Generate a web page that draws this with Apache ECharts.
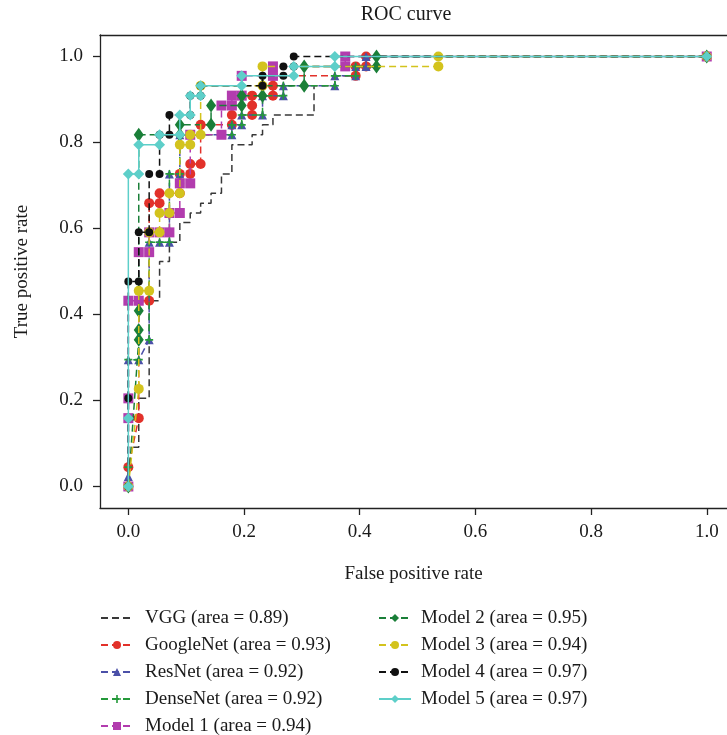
<!DOCTYPE html>
<html><head><meta charset="utf-8">
<script src="https://cdn.jsdelivr.net/npm/echarts@6/dist/echarts.min.js"></script>
<style>html,body{margin:0;padding:0;background:#fff}#c{width:727px;height:735px}</style>
</head><body><div id="c"></div>
<script>
// ROC points [false positive rate, true positive rate]
const vgg = [[0,0],[0,0.091],[0.018,0.091],[0.018,0.205],[0.036,0.205],[0.036,0.432],[0.054,0.432],[0.054,0.523],[0.071,0.523],[0.071,0.568],[0.089,0.568],[0.089,0.614],[0.107,0.614],[0.107,0.636],[0.125,0.636],[0.125,0.659],[0.143,0.659],[0.143,0.682],[0.161,0.682],[0.161,0.727],[0.179,0.727],[0.179,0.795],[0.214,0.795],[0.214,0.818],[0.232,0.818],[0.232,0.841],[0.25,0.841],[0.25,0.864],[0.321,0.864],[0.321,0.932],[0.357,0.932],[0.357,0.955],[0.393,0.955],[0.393,0.977],[0.429,0.977],[0.429,1],[1,1]];
const googleNet = [[0,0],[0,0.045],[0.018,0.159],[0.018,0.432],[0.036,0.432],[0.036,0.659],[0.054,0.659],[0.054,0.682],[0.089,0.682],[0.089,0.727],[0.107,0.727],[0.107,0.75],[0.125,0.75],[0.125,0.841],[0.179,0.841],[0.179,0.864],[0.214,0.864],[0.214,0.886],[0.214,0.909],[0.25,0.909],[0.25,0.932],[0.25,0.955],[0.393,0.955],[0.393,0.977],[0.411,0.977],[0.411,1],[1,1]];
const resNet = [[0,0],[0,0.023],[0,0.295],[0.018,0.295],[0.036,0.341],[0.036,0.568],[0.054,0.568],[0.071,0.568],[0.071,0.727],[0.089,0.727],[0.089,0.818],[0.179,0.818],[0.179,0.841],[0.196,0.841],[0.196,0.864],[0.232,0.864],[0.232,0.909],[0.268,0.909],[0.268,0.932],[0.357,0.932],[0.357,0.955],[0.393,0.955],[0.393,0.977],[0.411,0.977],[0.411,1],[1,1]];
const denseNet = [[0,0],[0,0.045],[0,0.295],[0.018,0.295],[0.018,0.341],[0.036,0.341],[0.036,0.568],[0.054,0.568],[0.071,0.568],[0.071,0.727],[0.089,0.727],[0.089,0.818],[0.179,0.818],[0.179,0.841],[0.196,0.841],[0.196,0.864],[0.232,0.864],[0.232,0.909],[0.268,0.909],[0.268,0.932],[0.357,0.932],[0.357,0.955],[0.393,0.955],[0.393,0.977],[0.429,0.977],[0.429,1],[1,1]];
const model1 = [[0,0],[0,0.159],[0,0.205],[0,0.432],[0.018,0.432],[0.018,0.545],[0.036,0.545],[0.036,0.591],[0.054,0.591],[0.071,0.591],[0.071,0.636],[0.089,0.636],[0.089,0.705],[0.107,0.705],[0.107,0.818],[0.161,0.818],[0.161,0.886],[0.179,0.886],[0.179,0.909],[0.196,0.909],[0.196,0.955],[0.25,0.955],[0.25,0.977],[0.375,0.977],[0.375,1],[1,1]];
const model2 = [[0,0],[0.018,0.341],[0.018,0.364],[0.018,0.409],[0.018,0.818],[0.089,0.818],[0.089,0.841],[0.143,0.841],[0.143,0.886],[0.196,0.886],[0.196,0.909],[0.232,0.909],[0.232,0.932],[0.304,0.932],[0.304,0.977],[0.429,0.977],[0.429,1],[1,1]];
const model3 = [[0,0],[0.018,0.227],[0.018,0.455],[0.036,0.455],[0.036,0.591],[0.054,0.591],[0.054,0.636],[0.071,0.636],[0.071,0.682],[0.089,0.682],[0.089,0.795],[0.107,0.795],[0.107,0.818],[0.125,0.818],[0.125,0.932],[0.232,0.932],[0.232,0.977],[0.536,0.977],[0.536,1],[1,1]];
const model4 = [[0,0],[0,0.205],[0,0.477],[0.018,0.477],[0.018,0.591],[0.036,0.591],[0.036,0.727],[0.054,0.727],[0.054,0.818],[0.071,0.818],[0.071,0.864],[0.107,0.864],[0.107,0.909],[0.125,0.909],[0.125,0.932],[0.232,0.932],[0.232,0.955],[0.268,0.955],[0.268,0.977],[0.286,0.977],[0.286,1],[1,1]];
const model5 = [[0,0],[0,0.159],[0,0.727],[0.018,0.727],[0.018,0.795],[0.054,0.795],[0.054,0.818],[0.089,0.818],[0.089,0.864],[0.107,0.864],[0.107,0.909],[0.125,0.909],[0.125,0.932],[0.196,0.932],[0.196,0.955],[0.286,0.955],[0.286,0.977],[0.357,0.977],[0.357,1],[1,1]];

const seriesNames = ['VGG (area = 0.89)','GoogleNet (area = 0.93)','ResNet (area = 0.92)','DenseNet (area = 0.92)','Model 1 (area = 0.94)','Model 2 (area = 0.95)','Model 3 (area = 0.94)','Model 4 (area = 0.97)','Model 5 (area = 0.97)'];
const tickValues = [0,0.2,0.4,0.6,0.8,1.0];

const FONT = '"Liberation Serif", "DejaVu Serif", serif';
const TXT = '#1a1a1a';
const DASH = [7,4];
const plus = 'path://M4,0L6,0L6,4L10,4L10,6L6,6L6,10L4,10L4,6L0,6L0,4L4,4Z';
const XMIN = -0.049, XMAX = 1.035, YMIN = -0.05, YMAX = 1.05;

const styles = [
  {data: vgg, color:'#383838', symbol:'none', size:0, dash:DASH},
  {data: googleNet, color:'#e2312a', symbol:'circle', size:10, dash:DASH},
  {data: resNet, color:'#4b50a8', symbol:'triangle', size:9, dash:DASH},
  {data: denseNet, color:'#24993a', symbol:plus, size:8, dash:DASH},
  {data: model1, color:'#b23cae', symbol:'rect', size:10, dash:DASH},
  {data: model2, color:'#1a7f38', symbol:'diamond', size:[10,14], dash:DASH},
  {data: model3, color:'#d3c31d', symbol:'circle', size:10, dash:DASH},
  {data: model4, color:'#111111', symbol:'circle', size:8, dash:DASH},
  {data: model5, color:'#5dcfc9', symbol:'diamond', size:[11,11], dash:'solid'}
];

const series = styles.map((s, i) => ({
  name: seriesNames[i],
  type: 'line',
  xAxisIndex: 0,
  data: s.data,
  symbol: s.symbol,
  symbolSize: s.size,
  showSymbol: s.symbol !== 'none',
  lineStyle: {color: s.color, width: 1.5, type: s.dash},
  itemStyle: {color: s.color, borderWidth: 0},
  z: 2 + i,
  animation: false,
  silent: true,
  emphasis: {disabled: true},
  clip: true
}));

const legendText = {fontFamily: FONT, fontSize: 19, color: TXT, lineHeight: 20};
const legendBase = {
  orient: 'vertical', itemWidth: 32, itemHeight: 10, itemGap: 7,
  selectedMode: false, height: 170, top: 603
};
const col1 = seriesNames.slice(0,5).map((n, i) => i === 0 ? {name: n, itemStyle: {opacity: 0}} : {name: n});
const col2 = seriesNames.slice(5).map(n => ({name: n}));

const axisCommon = {
  axisLine: {show: true, onZero: false, lineStyle: {color: '#222', width: 1.3}},
  axisTick: {show: true, inside: false, length: 7, customValues: tickValues, lineStyle: {color: '#222', width: 1.3}},
  splitLine: {show: false}
};

const chart = echarts.init(document.getElementById('c'));
chart.setOption({
  animation: false,
  backgroundColor: '#ffffff',
  graphic: [{
    type: 'text', x: 406, y: 15,
    style: {text: 'ROC curve', fill: TXT, font: '20px "Liberation Serif", serif', align: 'center', verticalAlign: 'middle'}
  }],
  grid: {left: 100, top: 35, right: 0, height: 473, show: false, containLabel: false},
  xAxis: [
    Object.assign({}, axisCommon, {
      type: 'value', min: XMIN, max: XMAX, position: 'bottom',
      axisLabel: {customValues: tickValues, formatter: v => v.toFixed(1), fontFamily: FONT, fontSize: 19, color: TXT, margin: 15},
      name: 'False positive rate', nameLocation: 'middle', nameGap: 57,
      nameTextStyle: {fontFamily: FONT, fontSize: 19, color: TXT}
    }),
    {
      type: 'value', min: XMIN, max: XMAX, position: 'top',
      axisLine: {show: true, onZero: false, lineStyle: {color: '#222', width: 1.3}},
      axisTick: {show: false}, axisLabel: {show: false}, splitLine: {show: false}
    }
  ],
  yAxis: Object.assign({}, axisCommon, {
    type: 'value', min: YMIN, max: YMAX,
    axisLabel: {customValues: tickValues, formatter: v => v.toFixed(1), fontFamily: FONT, fontSize: 19, color: TXT, margin: 17},
    name: 'True positive rate', nameLocation: 'middle', nameGap: 68, nameRotate: 90,
    nameTextStyle: {fontFamily: FONT, fontSize: 19, color: TXT}
  }),
  legend: [
    Object.assign({}, legendBase, {data: col1, left: 95, textStyle: Object.assign({}, legendText, {padding: [0,0,0,7]})}),
    Object.assign({}, legendBase, {data: col2, left: 373, textStyle: Object.assign({}, legendText, {padding: [0,0,0,5]})})
  ],
  series: series
});
</script>
</body></html>
